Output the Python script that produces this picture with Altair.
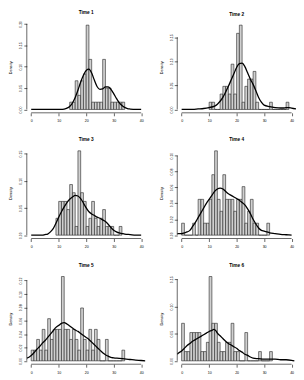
import altair as alt
import pandas as pd

FONT = "Liberation Sans"

titles = ["Time 1", "Time 2", "Time 3", "Time 4", "Time 5", "Time 6"]
x_ticks = [0, 10, 20, 30, 40]

# first bin (left edge) of each histogram, bins are 1 unit wide
first_bin = [14, 10, 9, 0, 0, 0]

p1_density = [0.017, 0.017, 0.067, 0.033, 0.067, 0.083, 0.197, 0.117, 0.017, 0.017,
              0.017, 0.017, 0.117, 0.05, 0.05, 0.017, 0.017, 0.017, 0.017, 0.017]
p2_density = [0.015, 0.015, 0, 0, 0.032, 0.048, 0.048, 0.032, 0.094, 0.032, 0.158, 0.175,
              0.015, 0.048, 0.063, 0.063, 0.079, 0.015, 0, 0, 0, 0, 0.015, 0, 0, 0, 0, 0, 0.015]
p3_density = [0.031, 0.062, 0.062, 0.062, 0.047, 0.093, 0.078, 0.016, 0.155, 0.078, 0.062,
              0.016, 0.031, 0.062, 0.031, 0.016, 0.031, 0.047, 0.016, 0.016, 0.016, 0, 0, 0.016]
p4_density = [0.015, 0, 0, 0, 0.015, 0, 0.045, 0.045, 0.015, 0.015, 0.045, 0.076, 0.106,
              0.045, 0.030, 0.076, 0.045, 0.045, 0.045, 0.030, 0.045, 0.045, 0.061, 0.015,
              0.030, 0.045, 0.015, 0.015, 0, 0, 0, 0.015]
p5_density = [0.016, 0.016, 0.032, 0.016, 0.047, 0.016, 0.063, 0.032, 0.047, 0.047, 0.047,
              0.126, 0.047, 0.047, 0.032, 0.047, 0.032, 0.016, 0.079, 0.032, 0.016, 0.047,
              0.016, 0.047, 0.032, 0, 0, 0.032, 0, 0, 0, 0, 0, 0.016]
p6_density = [0.069, 0.017, 0.017, 0.052, 0.052, 0.052, 0.052, 0.017, 0.017, 0.034, 0.155,
              0.069, 0.069, 0.034, 0.017, 0.017, 0.034, 0.034, 0.069, 0.017, 0.017, 0, 0,
              0.052, 0, 0, 0, 0, 0.017, 0, 0, 0, 0.017]

p1_curve_x = [0, 4, 8, 11, 12, 13, 14, 15, 16, 17, 18, 19, 20, 21, 22, 23, 24, 25, 26, 27,
              28, 29, 30, 31, 32, 33, 34, 35, 36, 38, 40]
p1_curve_y = [0, 0, 0, 0, 0.001, 0.003, 0.007, 0.015, 0.028, 0.045, 0.064, 0.08, 0.091,
              0.094, 0.085, 0.068, 0.053, 0.047, 0.048, 0.053, 0.053, 0.047, 0.037, 0.026,
              0.016, 0.009, 0.005, 0.002, 0.001, 0, 0]
p2_curve_x = [0, 4, 6, 8, 10, 12, 13, 14, 15, 16, 17, 18, 19, 20, 21, 22, 23, 24, 25, 26,
              27, 28, 29, 30, 32, 34, 36, 37, 38, 39, 40, 41.6]
p2_curve_y = [0, 0, 0.001, 0.002, 0.004, 0.007, 0.011, 0.017, 0.025, 0.036, 0.048, 0.061,
              0.074, 0.087, 0.095, 0.096, 0.089, 0.076, 0.063, 0.052, 0.039, 0.025, 0.015,
              0.009, 0.006, 0.004, 0.003, 0.003, 0.004, 0.004, 0.003, 0.001]
p3_curve_x = [0, 4, 5, 6, 7, 8, 9, 10, 11, 12, 13, 14, 15, 16, 17, 18, 19, 20, 21, 22, 23,
              24, 25, 26, 27, 28, 29, 30, 31, 32, 33, 34, 36, 38, 40]
p3_curve_y = [0, 0, 0.001, 0.002, 0.006, 0.012, 0.022, 0.033, 0.043, 0.052, 0.06, 0.066,
              0.07, 0.073, 0.072, 0.067, 0.059, 0.05, 0.043, 0.039, 0.036, 0.033, 0.031,
              0.028, 0.025, 0.02, 0.014, 0.009, 0.006, 0.004, 0.003, 0.002, 0.001, 0, 0]
p4_curve_x = [-1.6, 0, 1, 2, 3, 4, 5, 6, 7, 8, 9, 10, 11, 12, 13, 14, 15, 16, 17, 18, 19,
              20, 21, 22, 23, 24, 25, 26, 27, 28, 29, 30, 31, 32, 34, 36, 38, 40]
p4_curve_y = [0.002, 0.002, 0.003, 0.004, 0.006, 0.011, 0.016, 0.022, 0.028, 0.034, 0.04,
              0.045, 0.05, 0.055, 0.058, 0.059, 0.058, 0.055, 0.052, 0.05, 0.048, 0.046,
              0.044, 0.041, 0.038, 0.033, 0.027, 0.02, 0.014, 0.009, 0.006, 0.005, 0.004,
              0.003, 0.002, 0.001, 0.0005, 0]
p5_curve_x = [-1.6, -1, 0, 1, 2, 3, 4, 5, 6, 7, 8, 9, 10, 11, 12, 13, 14, 15, 16, 17, 18,
              19, 20, 21, 22, 23, 24, 25, 26, 27, 28, 29, 30, 32, 34, 36, 38, 40, 41.5]
p5_curve_y = [0.004, 0.005, 0.008, 0.012, 0.017, 0.021, 0.026, 0.03, 0.035, 0.04, 0.045,
              0.05, 0.053, 0.056, 0.057, 0.055, 0.052, 0.049, 0.046, 0.044, 0.041, 0.038,
              0.035, 0.032, 0.028, 0.024, 0.02, 0.016, 0.012, 0.009, 0.007, 0.005, 0.0045,
              0.0038, 0.003, 0.002, 0.001, 0.0005, 0]
p6_curve_x = [-1.6, -1, 0, 1, 2, 3, 4, 5, 6, 7, 8, 9, 10, 11, 11.7, 12.5, 13, 14, 15, 16,
              17, 18, 19, 20, 21, 22, 23, 24, 25, 26, 28, 30, 32, 34, 36, 38, 40, 41]
p6_curve_y = [0.012, 0.015, 0.018, 0.023, 0.028, 0.032, 0.036, 0.039, 0.042, 0.045, 0.048,
              0.051, 0.054, 0.056, 0.058, 0.055, 0.051, 0.046, 0.041, 0.036, 0.032, 0.029,
              0.026, 0.023, 0.019, 0.016, 0.012, 0.01, 0.007, 0.005, 0.004, 0.003, 0.003,
              0.003, 0.002, 0.002, 0.001, 0.0]

y_ticks = [
    [0, 0.05, 0.10, 0.15, 0.20],
    [0, 0.05, 0.10, 0.15],
    [0, 0.05, 0.10, 0.15],
    [0, 0.02, 0.04, 0.06, 0.08, 0.10],
    [0, 0.02, 0.04, 0.06, 0.08, 0.10, 0.12],
    [0, 0.05, 0.10, 0.15],
]

densities = [p1_density, p2_density, p3_density, p4_density, p5_density, p6_density]
curves_x = [p1_curve_x, p2_curve_x, p3_curve_x, p4_curve_x, p5_curve_x, p6_curve_x]
curves_y = [p1_curve_y, p2_curve_y, p3_curve_y, p4_curve_y, p5_curve_y, p6_curve_y]

W, H = 120, 92
XMIN, XMAX = -1.6, 41.6


def panel(i):
    dens = densities[i]
    m = max(dens)
    ydom = [-0.04 * m, 1.04 * m]
    xs = alt.Scale(domain=[XMIN, XMAX], nice=False, zero=False)
    ys = alt.Scale(domain=ydom, nice=False, zero=False)
    xaxis = alt.Axis(values=x_ticks, title=None, grid=False, domain=False, tickSize=3,
                     tickColor="black", tickWidth=0.6, labelFontSize=3.6, labelFont=FONT,
                     labelColor="black", labelPadding=3.2, labelFlush=False,
                     labelOverlap=False, format="d")
    yaxis = alt.Axis(values=y_ticks[i], format=".2f", title="Density", grid=False,
                     domain=False, tickSize=3, tickColor="black", tickWidth=0.6,
                     labelFontSize=3.6, labelFont=FONT, labelColor="black",
                     labelAngle=270, labelAlign="center", labelBaseline="bottom",
                     labelPadding=1, labelFlush=False, labelOverlap=False,
                     titleAngle=270, titleX=-15.3, titleY=H / 2, titleAlign="center",
                     titleBaseline="alphabetic", titleFontSize=3.9,
                     titleFontWeight="normal", titleFont=FONT, titleColor="black")

    bars_df = pd.DataFrame({
        "x0": [first_bin[i] + j for j in range(len(dens))],
        "d": dens,
    })
    bars_df["x1"] = bars_df["x0"] + 1

    bars = alt.Chart(bars_df).mark_rect(
        fill="#d0d0d0", stroke="#222222", strokeWidth=0.6
    ).encode(
        x=alt.X("x0:Q", scale=xs, axis=xaxis),
        x2="x1:Q",
        y=alt.Y("d:Q", scale=ys, axis=yaxis),
        y2=alt.datum(0),
    )

    curve_df = pd.DataFrame({"cx": curves_x[i], "cy": curves_y[i]})
    curve = alt.Chart(curve_df).mark_line(
        color="black", strokeWidth=1.3, interpolate="monotone", clip=True
    ).encode(
        x=alt.X("cx:Q", scale=xs, axis=xaxis),
        y=alt.Y("cy:Q", scale=ys, axis=yaxis),
    )

    xline_df = pd.DataFrame({"a": [x_ticks[0]], "b": [x_ticks[-1]], "c": [ydom[0]]})
    xline = alt.Chart(xline_df).mark_rule(color="black", strokeWidth=0.6).encode(
        x=alt.X("a:Q", scale=xs, axis=xaxis),
        x2="b:Q",
        y=alt.Y("c:Q", scale=ys, axis=yaxis),
    )

    yline_df = pd.DataFrame({"a": [XMIN], "b": [y_ticks[i][0]], "c": [y_ticks[i][-1]]})
    yline = alt.Chart(yline_df).mark_rule(color="black", strokeWidth=0.6).encode(
        x=alt.X("a:Q", scale=xs, axis=xaxis),
        y=alt.Y("b:Q", scale=ys, axis=yaxis),
        y2="c:Q",
    )

    return alt.layer(bars, curve, xline, yline).properties(
        width=W,
        height=H,
        title=alt.TitleParams(titles[i], fontSize=4.8, fontWeight="bold", font=FONT,
                              color="black", offset=1.3, anchor="middle",
                              baseline="alphabetic"),
    )


panels = [panel(i) for i in range(6)]

chart = alt.concat(
    *panels, columns=2, spacing={"row": 35, "column": 32}, bounds="flush"
).configure_view(
    stroke=None
).properties(padding=0, background="white")

chart.save("out.html", embed_options={"renderer": "svg", "actions": False})
